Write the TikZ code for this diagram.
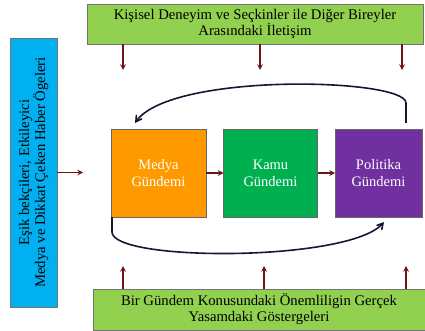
\documentclass[tikz,border=0pt]{standalone}
\usepackage{fontspec}
\setmainfont{Liberation Serif}
\usetikzlibrary{positioning,arrows,calc}
\definecolor{barGreen}{RGB}{146,208,80}
\definecolor{gateBlue}{RGB}{0,176,240}
\definecolor{mediaOrange}{RGB}{255,153,0}
\definecolor{publicGreen}{RGB}{0,176,80}
\definecolor{policyPurple}{RGB}{112,48,160}
\definecolor{arrowRed}{RGB}{110,20,20}
\definecolor{loopNavy}{RGB}{25,22,50}

\begin{document}
\begin{tikzpicture}[x=1pt,y=-1pt,node distance=17.5pt,outer sep=0pt,inner sep=2pt]
        \tikzset{bar/.style={align=center,shape=rectangle,draw=black!55,fill=barGreen,minimum height=40pt,font=\fontsize{14.7}{16}\selectfont}}
        \tikzset{agenda/.style={align=center,shape=rectangle,draw=black!60,text=white,minimum height=88pt,minimum width=95pt,font=\fontsize{14.5}{17}\selectfont}}
        \tikzset{feed/.style={draw=arrowRed,line width=1.5pt,-stealth}}
        \tikzset{loop/.style={draw=loopNavy,line width=1.6pt,-angle 60}}

        \useasboundingbox (0,0) rectangle (425,331);

        \node [bar,minimum width=336pt] (personal) at (255,24) {Kişisel Deneyim ve Seçkinler ile Diğer Bireyler\\Arasındaki İletişim};
        \node [bar,minimum width=332pt,minimum height=41pt] (realworld) at (259,309.5) {Bir Gündem Konusundaki Önemliligin Gerçek\\Yasamdaki Göstergeleri};
        \node [bar,fill=gateBlue,rotate=90,minimum width=269pt,minimum height=47pt] (gatekeepers) at (33.5,172.5) {Eşik bekçileri, Etkileyici\\Medya ve Dikkat Çeken Haber Ögeleri};

        \node [agenda,fill=mediaOrange] (media) at (158.5,173) {Medya\\Gündemi};
        \node [agenda,fill=publicGreen,minimum width=94pt,right=of media] (public) {Kamu\\Gündemi};
        \node [agenda,fill=policyPurple,minimum width=87pt,right=of public] (policy) {Politika\\Gündemi};

        % free ends of the short arrows
        \coordinate (d1) at (123,70);
        \coordinate (d2) at (260,70);
        \coordinate (d3) at (402,70);
        \coordinate (u1) at (123,266);
        \coordinate (u2) at (264,266);
        \coordinate (u3) at (406,266);
        \coordinate (g) at (83,172.5);

        \draw [feed] (d1 |- personal.south) -- (d1);
        \draw [feed] (d2 |- personal.south) -- (d2);
        \draw [feed] (d3 |- personal.south) -- (d3);
        \draw [feed] (u1 |- realworld.north) -- (u1);
        \draw [feed] (u2 |- realworld.north) -- (u2);
        \draw [feed] (u3 |- realworld.north) -- (u3);
        \draw [feed] (gatekeepers.south) -- (g);

        \draw [feed] (media) -- (public);
        \draw [feed] (public) -- (policy);

        \draw [loop] ($(policy.north)+(27.5,-6)$) -- ++(0,-20) .. controls +(0,-25) and (170,72) .. ($(media.north)+(-23.5,-6)$);
        \draw [loop] ($(media.south west)+(1,0)$) -- ++(0,15) .. controls +(0,30) and (350,262) .. ($(policy.south)+(5.5,5)$);
    \end{tikzpicture}
\end{document}
